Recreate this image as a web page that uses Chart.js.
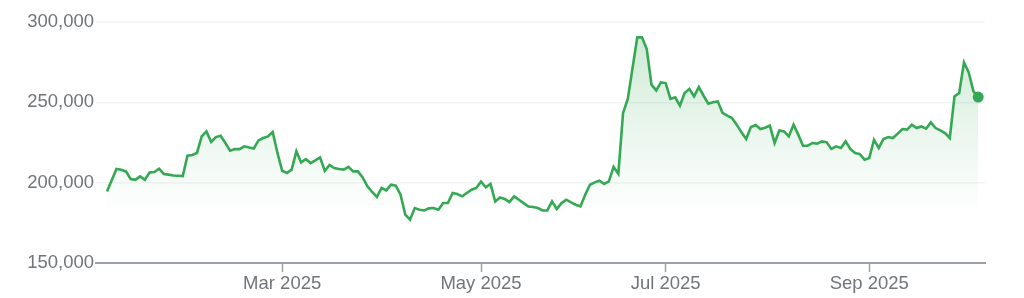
<!DOCTYPE html>
<html>
<head>
<meta charset="utf-8">
<script src="https://cdn.jsdelivr.net/npm/chart.js@4"></script>
<style>
  html, body { margin: 0; padding: 0; background: #fff; }
  #wrap { width: 1024px; height: 298px; }
</style>
</head>
<body>
<div id="wrap"><canvas id="priceChart"></canvas></div>
<script>
// daily closes, one per trading day
const prices = [
  194500, 201500, 208500, 208000, 207000, 202300, 201800, 203900, 201800, 206400,
  206600, 208700, 205400, 205000, 204500, 204300, 204100, 216800, 217200, 218500,
  228800, 231900, 225300, 228400, 229200, 224700, 219900, 220900, 220900, 222600,
  221900, 221300, 226300, 227800, 228800, 231500, 218500, 207400, 206000, 208100,
  219500, 212600, 214700, 212200, 213900, 215700, 207300, 211000, 209100, 208500,
  208100, 209800, 207000, 207000, 203300, 197700, 194200, 191100, 196700, 195200,
  198700, 198100, 192500, 180100, 177000, 184200, 183200, 182700, 184000, 184200,
  183200, 187300, 187300, 193600, 192900, 191500, 193600, 195600, 196700, 200600,
  197100, 199200, 188300, 190800, 189800, 188000, 191500, 189400, 187300, 185200,
  184900, 184200, 182700, 182700, 188300, 183600, 187300, 189400, 187700, 186300,
  185200, 192500, 198700, 200200, 201200, 199200, 200800, 209800, 205600, 243400,
  252100, 271400, 290400, 290400, 283200, 261000, 257400, 262400, 262000, 252100,
  253100, 247900, 255800, 258300, 253700, 259500, 254100, 249100, 250000, 250600,
  243400, 241700, 240200, 236100, 231300, 227200, 234600, 235900, 233400, 234200,
  235500, 224700, 232500, 231900, 228800, 236100, 229900, 223000, 223000, 224700,
  224300, 225700, 225100, 221000, 222600, 221600, 225700, 221000, 218500, 217800,
  214300, 215400, 226700, 221600, 227200, 228400, 227800, 230500, 233400, 233000,
  236100, 234000, 235000, 233600, 237500, 234000, 232500, 230900, 227800, 253700,
  255800, 274900, 268600, 256800, 253300
];
// x-axis labels and the trading-day index where each month begins
const tickLabels = ["Mar 2025", "May 2025", "Jul 2025", "Sep 2025"];
const tickDays = [37, 79, 118, 161];
const yTicks = [150000, 200000, 250000, 300000];

const green = "#34a853";
const textGray = "#70757a";

const points = prices.map((p, i) => ({ x: i, y: p }));
const lastIdx = prices.length - 1;

const ctx = document.getElementById("priceChart").getContext("2d");
new Chart(ctx, {
  type: "line",
  data: {
    datasets: [
      {
        data: points,
        borderColor: green,
        borderWidth: 2.6,
        tension: 0,
        fill: "start",
        backgroundColor: (c) => {
          const area = c.chart.chartArea;
          if (!area) return "rgba(52,168,83,0.1)";
          const g = c.chart.ctx.createLinearGradient(0, area.top, 0, area.bottom);
          g.addColorStop(0, "rgba(52,168,83,0.26)");
          g.addColorStop(0.45, "rgba(52,168,83,0.1)");
          g.addColorStop(0.8, "rgba(52,168,83,0.0)");
          g.addColorStop(1, "rgba(52,168,83,0.0)");
          return g;
        },
        pointRadius: prices.map((p, i) => (i === lastIdx ? 5.5 : 0)),
        pointBackgroundColor: green,
        pointBorderColor: green,
        pointBorderWidth: 0,
      },
    ],
  },
  options: {
    responsive: true,
    maintainAspectRatio: false,
    animation: false,
    layout: { padding: { top: 22, right: 39, left: 0, bottom: 0 } },
    plugins: {
      legend: { display: false },
      tooltip: { enabled: false },
    },
    scales: {
      x: {
        type: "linear",
        min: -2.32,
        max: 185.44,
        afterBuildTicks: (axis) => {
          axis.ticks = tickDays.map((d) => ({ value: d }));
        },
        afterFit: (axis) => {
          axis.height = 35;
        },
        ticks: {
          autoSkip: false,
          maxRotation: 0,
          padding: 1,
          color: textGray,
          font: { family: "Liberation Sans, Arial, sans-serif", size: 18.5 },
          callback: (v) => tickLabels[tickDays.indexOf(v)],
        },
        grid: {
          display: true,
          drawOnChartArea: false,
          drawTicks: true,
          tickLength: 9,
          tickColor: "#9aa0a6",
          tickWidth: 1.5,
        },
        border: { display: true, color: "#9aa0a6", width: 2 },
      },
      y: {
        min: 150000,
        max: 300000,
        afterBuildTicks: (axis) => {
          axis.ticks = yTicks.map((v) => ({ value: v }));
        },
        afterFit: (axis) => {
          axis.width = 96;
        },
        ticks: {
          padding: 2,
          color: textGray,
          font: { family: "Liberation Sans, Arial, sans-serif", size: 18.5 },
          callback: (v) => v.toLocaleString("en-US"),
        },
        grid: {
          color: "#f1f3f4",
          lineWidth: 1.5,
          drawTicks: false,
        },
        border: { display: false },
      },
    },
  },
});
</script>
</body>
</html>
